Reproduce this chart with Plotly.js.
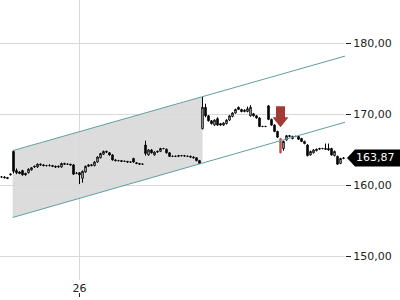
<!DOCTYPE html>
<html><head><meta charset="utf-8">
<script src="https://cdn.plot.ly/plotly-3.0.1.min.js"></script>
<style>html,body{margin:0;padding:0;background:#fff}#c{width:400px;height:300px}</style>
</head><body><div id="c"></div>
<script>
const open  = [161.2,161.2,161.1,161.5,164.8,162.1,161.9,162.1,161.7,161.8,162.2,162.6,162.6,163.0,162.9,162.8,162.8,162.8,162.7,162.6,162.6,163.1,163.0,163.0,162.9,161.7,161.8,161.0,161.9,162.7,162.8,162.8,163.3,163.9,164.4,164.8,164.6,164.3,163.6,163.5,163.5,163.4,163.4,163.3,163.8,163.2,163.1,163.0,165.7,164.3,165.0,164.3,164.7,164.8,165.2,165.1,164.6,164.1,164.1,164.1,164.2,164.2,164.1,164.1,164.0,163.9,163.5,168.0,171.0,169.8,169.1,168.5,169.4,168.7,168.5,168.7,169.2,169.7,170.2,171.0,170.7,170.4,170.4,169.8,170.1,169.8,169.5,168.3,168.3,171.2,169.3,168.5,167.6,166.6,165.2,166.4,166.9,166.6,166.9,166.9,166.6,166.2,165.7,164.3,164.6,164.9,165.1,165.2,165.2,165.2,165.2,164.2,164.1,163.1,163.8];
const high  = [161.3,161.3,161.2,161.7,165.0,162.4,162.0,162.2,161.8,162.4,162.6,162.8,163.1,163.1,163.0,162.9,163.0,162.9,162.8,162.8,163.2,163.2,163.1,163.0,163.0,161.9,161.9,162.1,162.8,163.0,163.0,163.4,164.1,164.6,164.9,164.9,164.7,164.4,163.7,163.6,163.5,163.5,163.4,163.4,163.9,163.3,163.1,163.1,166.3,165.1,165.1,164.8,164.9,165.3,165.3,165.2,164.7,164.2,164.2,164.3,164.3,164.3,164.2,164.2,164.1,163.9,163.6,172.5,171.5,169.9,169.2,169.3,169.6,168.8,168.9,169.3,169.9,170.3,170.8,171.1,170.8,170.7,171.1,171.3,170.2,169.9,169.6,168.4,168.4,171.3,169.4,168.6,167.7,166.7,166.3,167.1,167.1,167.0,167.0,167.0,166.7,166.3,165.8,164.9,165.1,165.2,165.3,165.3,165.9,165.9,165.3,164.9,164.2,163.9,164.0];
const low   = [161.1,161.0,160.9,161.4,161.7,161.6,161.6,161.4,161.4,161.7,162.1,162.5,162.5,162.8,162.7,162.7,162.7,162.6,162.5,162.5,162.5,162.9,162.9,162.8,161.5,161.6,160.2,160.4,161.8,162.6,162.7,162.7,163.2,163.8,164.3,164.6,164.2,163.5,163.4,163.4,163.3,163.3,163.2,163.2,163.2,163.0,162.9,162.9,164.2,164.2,164.5,164.2,164.6,164.7,165.1,164.5,164.0,164.0,164.0,164.0,164.1,164.1,164.0,163.9,163.8,163.4,163.0,167.9,169.6,169.0,168.6,168.4,168.4,168.4,168.4,168.6,169.1,169.6,170.1,170.6,170.3,170.3,170.3,169.7,169.7,169.4,168.2,168.2,168.2,169.2,168.4,167.5,166.7,164.5,164.9,166.3,166.8,166.5,166.8,166.4,166.1,165.8,164.1,164.2,164.5,164.8,165.0,165.1,165.0,164.9,164.2,164.1,162.9,163.0,163.7];
const close = [161.2,161.1,161.0,161.6,162.0,161.8,161.7,161.5,161.5,162.3,162.5,162.7,163.0,162.9,162.8,162.8,162.8,162.7,162.6,162.7,163.1,163.0,163.0,162.9,161.6,161.7,161.5,162.0,162.7,162.9,162.9,163.3,164.0,164.5,164.8,164.7,164.3,163.6,163.5,163.5,163.4,163.4,163.3,163.3,163.3,163.1,163.0,163.0,164.5,165.0,164.6,164.7,164.8,165.2,165.2,164.6,164.1,164.1,164.1,164.2,164.2,164.15,164.1,164.0,163.9,163.5,163.1,171.0,169.8,169.1,168.7,169.2,168.5,168.5,168.8,169.2,169.8,170.2,170.7,170.7,170.4,170.6,170.8,171.0,169.8,169.5,168.3,168.3,168.3,169.3,168.5,167.6,166.8,164.6,166.2,167.0,167.0,166.9,166.9,166.5,166.2,165.9,164.2,164.8,165.0,165.1,165.2,165.2,165.1,165.0,164.3,164.8,163.0,163.8,163.87];

const xTickVals = [26];
const xTickText = ['26'];
const yTickVals = [150, 160, 170, 180];

// trend channel (x in bar index units)
const channelX     = [3.7, 114.5];
const channelUpper = [164.9, 178.2];
const channelLower = [155.5, 168.9];
const shadeEndX    = 67;

const signalIndex = 93;       // highlighted (signal) candle
const arrowTipPrice = 168.2;  // arrow points down to this price
const lastPrice = 163.87;

const idx = open.map((_, i) => i);
const keep = idx.filter(i => i !== signalIndex);
const pick = (a, ids) => ids.map(i => a[i]);

function lerp(xs, ys, x) { return ys[0] + (ys[1]-ys[0]) * (x - xs[0]) / (xs[1]-xs[0]); }
const shadePath = 'M' + channelX[0] + ',' + channelUpper[0] +
  ' L' + shadeEndX + ',' + lerp(channelX, channelUpper, shadeEndX) +
  ' L' + shadeEndX + ',' + lerp(channelX, channelLower, shadeEndX) +
  ' L' + channelX[0] + ',' + channelLower[0] + ' Z';

const teal = '#5f9ea0';
const red = 'rgba(190,70,70,0.85)';
const traces = [
  {type:'candlestick', x:pick(idx, keep), open:pick(open, keep), high:pick(high, keep), low:pick(low, keep), close:pick(close, keep),
   increasing:{line:{color:'#000', width:1}, fillcolor:'#ffffff'},
   decreasing:{line:{color:'#000', width:1}, fillcolor:'#000000'},
   whiskerwidth:0, showlegend:false},
  {type:'candlestick', x:[signalIndex], open:[open[signalIndex]], high:[high[signalIndex]], low:[low[signalIndex]], close:[close[signalIndex]],
   increasing:{line:{color:red, width:1}, fillcolor:red},
   decreasing:{line:{color:red, width:1}, fillcolor:red},
   whiskerwidth:0, showlegend:false},
  {type:'scatter', mode:'lines', x:channelX, y:channelUpper, line:{color:teal, width:1}, showlegend:false},
  {type:'scatter', mode:'lines', x:channelX, y:channelLower, line:{color:teal, width:1}, showlegend:false}
];

const font = {family:'DejaVu Sans', size:11, color:'#222'};
const priceText = lastPrice.toFixed(2).replace('.', ',');

const layout = {
  width:400, height:300,
  margin:{l:0, r:55, t:0, b:20},
  paper_bgcolor:'#fff', plot_bgcolor:'#fff',
  separators:',.',
  font:font,
  showlegend:false,
  xaxis:{range:[-0.5, 114.5], rangeslider:{visible:false}, tickvals:xTickVals, ticktext:xTickText,
         showgrid:true, gridcolor:'#d9d9d9', gridwidth:1, zeroline:false, showline:false, ticks:'', tickfont:font, fixedrange:true},
  yaxis:{range:[146.71, 186.09], side:'right', tickvals:yTickVals, tickformat:'.2f', showgrid:true, gridcolor:'#d9d9d9',
         zeroline:false, showline:false, ticks:'outside', ticklen:5, tickcolor:'#222', tickfont:font, fixedrange:true},
  shapes:[
    // shaded channel segment
    {type:'path', xref:'x', yref:'y', path:shadePath, fillcolor:'rgba(196,196,196,0.6)', line:{width:0}, layer:'below'},
    // signal arrow
    {type:'path', xref:'x', yref:'y', xsizemode:'pixel', ysizemode:'pixel', xanchor:signalIndex, yanchor:arrowTipPrice,
     path:'M0,0 L-8,10 L-4.5,10 L-4.5,21 L4.5,21 L4.5,10 L8,10 Z', fillcolor:'#a23b35', line:{width:0}, layer:'above'},
    // last price tag
    {type:'path', xref:'paper', yref:'y', xsizemode:'pixel', ysizemode:'pixel', xanchor:1, yanchor:lastPrice,
     path:'M2,0 L10,8.5 L56,8.5 L56,-8.5 L10,-8.5 Z', fillcolor:'#000', line:{width:0}, layer:'above'},
    // x tick mark
    {type:'line', xref:'x', yref:'paper', ysizemode:'pixel', yanchor:0, x0:xTickVals[0], x1:xTickVals[0], y0:-13, y1:-17, line:{color:'#222', width:1}}
  ],
  annotations:[
    {xref:'paper', yref:'y', x:1, y:lastPrice, xanchor:'center', yanchor:'middle', xshift:30.5, text:priceText, showarrow:false,
     font:{family:'DejaVu Sans', size:11, color:'#fff'}}
  ]
};

Plotly.newPlot('c', traces, layout, {displayModeBar:false, staticPlot:true});
</script></body></html>
